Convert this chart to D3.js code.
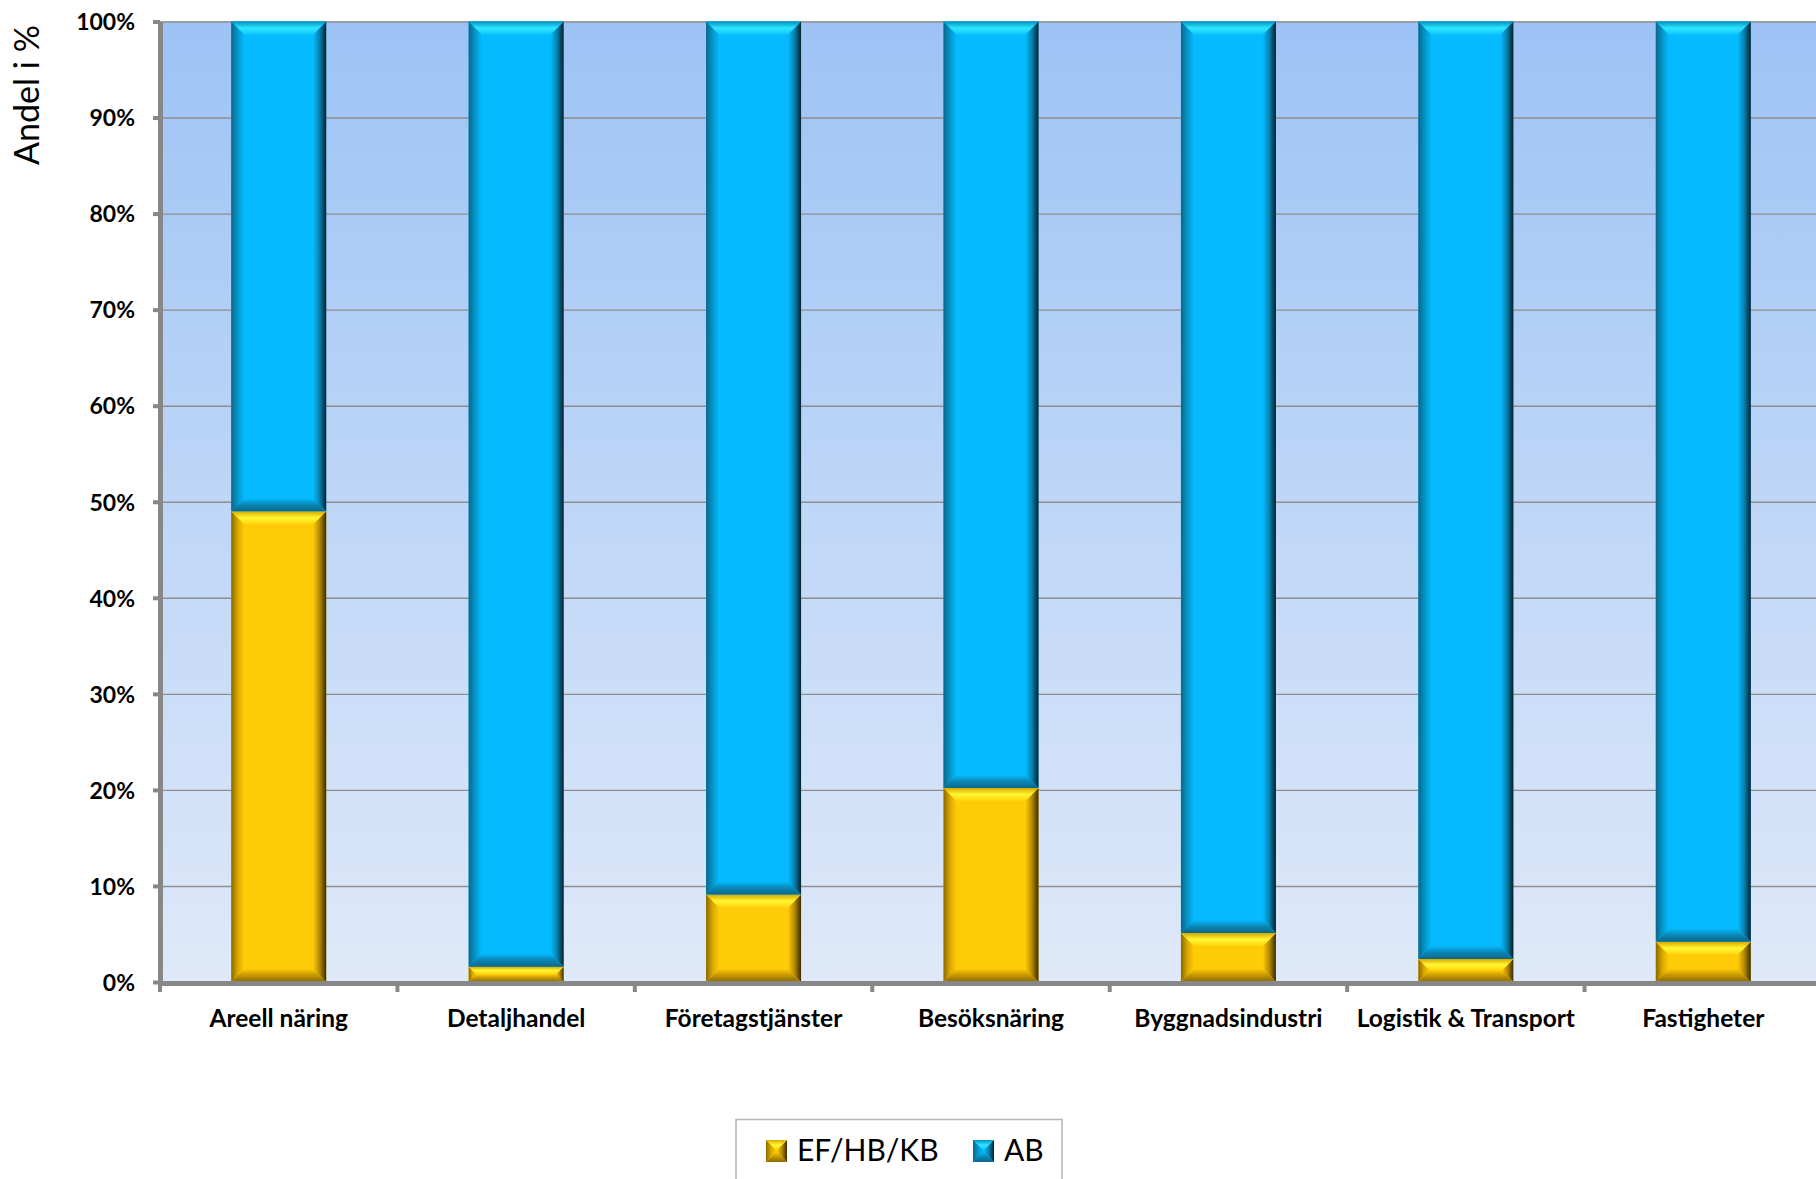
<html>
<head>
<meta charset="UTF-8">
<style>
  body { margin: 0; background: #ffffff; }
  text { font-family: Lato, 'Open Sans', sans-serif; fill: #000; }
  .axis text { font-weight: bold; }
</style>
</head>
<body>
<script src="https://d3js.org/d3.v7.min.js"></script>
<svg id="chart" width="1816" height="1179"></svg>
<script>
  /* data */
  var categories = ["Areell näring", "Detaljhandel", "Företagstjänster", "Besöksnäring",
    "Byggnadsindustri", "Logistik & Transport", "Fastigheter"];
  var efValues = [49.0, 1.6, 9.1, 20.2, 5.1, 2.4, 4.2];
  var abValues = [51.0, 98.4, 90.9, 79.8, 94.9, 97.6, 95.8];
  var seriesNames = ["EF/HB/KB", "AB"];
  var yTicks = [0, 10, 20, 30, 40, 50, 60, 70, 80, 90, 100];

  var svg = d3.select("#chart"),
      plotLeft = 160, plotRight = 1822, plotTop = 21.5, plotBottom = 982;

  var x = d3.scaleBand().domain(categories).range([plotLeft, plotRight]).paddingInner(0.6).paddingOuter(0.3),
      y = d3.scaleLinear().domain([0, 100]).range([plotBottom, plotTop]);

  var palettes = {
    ef: {main: "#ffca08",
      left: ["#8a6900", "#d9a800", "#ffca08"],
      right: ["#ffca08", "#b38900", "#3a2c00"],
      top: ["#d8a800", "#fff733", "#ffd40a"],
      bottom: ["#ffca08", "#c29400", "#8a6800"]},
    ab: {main: "#05bafe",
      left: ["#0b678a", "#0595c9", "#05bafe"],
      right: ["#05bafe", "#0780ad", "#06202c"],
      top: ["#0090c4", "#2ee6ff", "#10c6ff"],
      bottom: ["#05bafe", "#0a86b3", "#0b668a"]}
  };

  var defs = svg.append("defs");

  /* plot background gradient */
  var bg = defs.append("linearGradient").attr("id", "bg")
    .attr("x1", 0).attr("y1", 0).attr("x2", 0).attr("y2", 1);
  bg.append("stop").attr("offset", 0).attr("stop-color", "#9dc3f5");
  bg.append("stop").attr("offset", 1).attr("stop-color", "#dfe9f9");

  /* bevel gradients */
  Object.keys(palettes).forEach(function(k) {
    var p = palettes[k];
    [["left", 0, 0, 1, 0], ["right", 0, 0, 1, 0], ["top", 0, 0, 0, 1], ["bottom", 0, 0, 0, 1]].forEach(function(s) {
      var gr = defs.append("linearGradient").attr("id", k + "-" + s[0])
        .attr("x1", s[1]).attr("y1", s[2]).attr("x2", s[3]).attr("y2", s[4]);
      p[s[0]].forEach(function(c, i) {
        gr.append("stop").attr("offset", i / 2).attr("stop-color", c);
      });
    });
  });

  svg.append("rect")
    .attr("x", plotLeft).attr("y", plotTop)
    .attr("width", plotRight - plotLeft).attr("height", plotBottom - plotTop)
    .attr("fill", "url(#bg)");

  /* gridlines */
  svg.append("g")
    .attr("transform", "translate(" + plotLeft + ",0)")
    .call(d3.axisLeft(y).tickValues(yTicks).tickSize(-(plotRight - plotLeft)).tickFormat(""))
    .call(function(g) {
      g.select(".domain").remove();
      g.selectAll("line").attr("stroke", "#8e8e8e").attr("stroke-width", 1.4);
    });

  function bevel(g, bx, by, w, h, key, b) {
    b = Math.min(b, h / 2, w / 2);
    g.append("rect").attr("x", bx).attr("y", by).attr("width", w).attr("height", h)
      .attr("fill", palettes[key].main);
    var pts = {
      left: [[bx, by], [bx + b, by + b], [bx + b, by + h - b], [bx, by + h]],
      right: [[bx + w, by], [bx + w - b, by + b], [bx + w - b, by + h - b], [bx + w, by + h]],
      top: [[bx, by], [bx + w, by], [bx + w - b, by + b], [bx + b, by + b]],
      bottom: [[bx, by + h], [bx + w, by + h], [bx + w - b, by + h - b], [bx + b, by + h - b]]
    };
    ["left", "right", "top", "bottom"].forEach(function(s) {
      g.append("polygon")
        .attr("points", pts[s].map(function(p) { return p.join(","); }).join(" "))
        .attr("fill", "url(#" + key + "-" + s + ")");
    });
  }

  /* stacked bars */
  var rows = categories.map(function(c, i) { return {cat: c, ef: efValues[i], ab: abValues[i]}; });
  var stacked = d3.stack().keys(["ef", "ab"])(rows);
  var bars = svg.append("g");
  stacked.forEach(function(layer) {
    layer.forEach(function(d) {
      var x0 = x(d.data.cat), y0 = y(d[1]), h = y(d[0]) - y(d[1]);
      bevel(bars, x0, y0, x.bandwidth(), h, layer.key, 13);
    });
  });

  /* y axis */
  svg.append("g")
    .attr("class", "axis")
    .attr("transform", "translate(" + plotLeft + ",0)")
    .call(d3.axisLeft(y).tickValues(yTicks).tickSize(7).tickSizeOuter(0).tickPadding(18)
      .tickFormat(function(d) { return d + "%"; }))
    .call(function(g) {
      g.select(".domain").attr("stroke", "#878787").attr("stroke-width", 5);
      g.selectAll(".tick line").attr("stroke", "#878787").attr("stroke-width", 4);
      g.selectAll("text").style("font-size", "23px").attr("dy", "0.36em");
    });

  /* x axis */
  svg.append("g")
    .attr("class", "axis")
    .attr("transform", "translate(0," + (plotBottom + 1) + ")")
    .call(d3.axisBottom(x).tickSize(0).tickSizeOuter(0).tickPadding(27))
    .call(function(g) {
      g.select(".domain").attr("stroke", "#878787").attr("stroke-width", 5);
      g.selectAll("text").style("font-size", "24.5px");
    });

  for (var i = 0; i <= categories.length; i++) {
    var bx = plotLeft + i * x.step();
    svg.append("line")
      .attr("x1", bx).attr("x2", bx)
      .attr("y1", plotBottom).attr("y2", plotBottom + 10)
      .attr("stroke", "#878787").attr("stroke-width", 4);
  }

  /* y axis title */
  svg.append("text")
    .attr("transform", "translate(39,95) rotate(-90)")
    .attr("text-anchor", "middle")
    .style("font-size", "34px")
    .text("Andel i %");

  /* legend */
  var legend = svg.append("g");
  legend.append("rect")
    .attr("x", 736).attr("y", 1119.5)
    .attr("width", 326).attr("height", 80)
    .attr("fill", "#fff").attr("stroke", "#b4b4b4").attr("stroke-width", 1.5);
  var legendX = [766, 973];
  ["ef", "ab"].forEach(function(k, i) {
    bevel(legend, legendX[i], 1140, 21, 22, k, 10);
    legend.append("text")
      .attr("x", legendX[i] + 31).attr("y", 1161)
      .style("font-size", "30px")
      .text(seriesNames[i]);
  });
</script>
</body>
</html>
